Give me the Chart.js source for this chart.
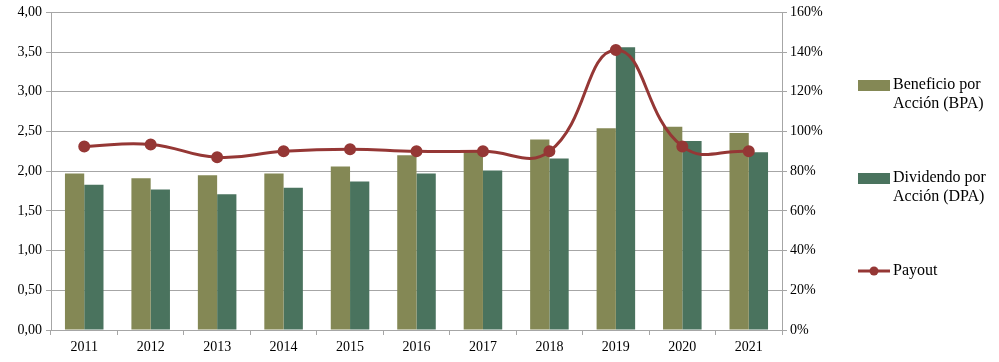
<!DOCTYPE html>
<html>
<head>
<meta charset="utf-8">
<script src="https://cdn.jsdelivr.net/npm/chart.js@4"></script>
<style>
  body { margin: 0; background: #fff; }
  #wrap { width: 999px; height: 362px; }
</style>
</head>
<body>
<div id="wrap"><canvas id="myChart" width="999" height="362"></canvas></div>
<script>
const years = ['2011', '2012', '2013', '2014', '2015', '2016', '2017', '2018', '2019', '2020', '2021'];
const bpa = [1.97, 1.91, 1.95, 1.97, 2.06, 2.20, 2.25, 2.40, 2.54, 2.56, 2.48];
const dpa = [1.83, 1.77, 1.71, 1.79, 1.87, 1.97, 2.01, 2.16, 3.56, 2.38, 2.24];
const payout = [92.5, 93.5, 87, 90, 91, 90, 90, 90, 141, 92.5, 90];

const FONT = '"Liberation Serif", "DejaVu Serif", serif';
const OLIVE = '#848855';
const GREEN = '#4a735e';
const RED = '#953735';

// legend drawn by hand so the labels can wrap like the original
const sideLegend = {
  id: 'sideLegend',
  afterDraw(chart) {
    const ctx = chart.ctx;
    ctx.save();
    ctx.font = '16px ' + FONT;
    ctx.fillStyle = '#000';
    ctx.textBaseline = 'middle';

    ctx.fillStyle = OLIVE;
    ctx.fillRect(858, 80, 32, 11);
    ctx.fillStyle = '#000';
    ctx.fillText('Beneficio por', 893, 85);
    ctx.fillText('Acción (BPA)', 893, 104);

    ctx.fillStyle = GREEN;
    ctx.fillRect(858, 173, 32, 11);
    ctx.fillStyle = '#000';
    ctx.fillText('Dividendo por', 893, 178);
    ctx.fillText('Acción (DPA)', 893, 197);

    ctx.strokeStyle = RED;
    ctx.lineWidth = 3;
    ctx.beginPath();
    ctx.moveTo(858, 271);
    ctx.lineTo(890, 271);
    ctx.stroke();
    ctx.fillStyle = RED;
    ctx.beginPath();
    ctx.arc(874, 271, 4.5, 0, Math.PI * 2);
    ctx.fill();
    ctx.fillStyle = '#000';
    ctx.fillText('Payout', 893, 271);
    ctx.restore();
  }
};

const ctx = document.getElementById('myChart');
const myChart = new Chart(ctx, {
  data: {
    labels: years,
    datasets: [
      {
        type: 'line',
        label: 'Payout',
        data: payout,
        yAxisID: 'y1',
        borderColor: RED,
        backgroundColor: RED,
        borderWidth: 3,
        pointRadius: 4.5,
        pointHoverRadius: 4.5,
        tension: 0.45,
        order: 0
      },
      {
        type: 'bar',
        label: 'Beneficio por Acción (BPA)',
        data: bpa,
        yAxisID: 'y',
        backgroundColor: OLIVE,
        borderWidth: 0,
        categoryPercentage: 0.58,
        barPercentage: 1.0,
        order: 1
      },
      {
        type: 'bar',
        label: 'Dividendo por Acción (DPA)',
        data: dpa,
        yAxisID: 'y',
        backgroundColor: GREEN,
        borderWidth: 0,
        categoryPercentage: 0.58,
        barPercentage: 1.0,
        order: 1
      }
    ]
  },
  options: {
    responsive: false,
    animation: false,
    layout: { padding: { top: 10, right: 137, bottom: 0, left: 0 } },
    scales: {
      x: {
        offset: true,
        grid: { offset: true, drawOnChartArea: false, color: '#a6a6a6', tickLength: 5 },
        border: { color: '#a6a6a6' },
        ticks: { color: '#000', font: { family: FONT, size: 14 }, padding: 4 },
        afterFit: (s) => { s.height = 32; }
      },
      y: {
        position: 'left',
        min: 0,
        max: 4,
        ticks: {
          stepSize: 0.5,
          color: '#000',
          font: { family: FONT, size: 14 },
          padding: 4,
          callback: (v) => v.toFixed(2).replace('.', ',')
        },
        grid: { color: '#a6a6a6', tickLength: 5 },
        border: { color: '#a6a6a6' },
        afterFit: (s) => { s.width = 51; }
      },
      y1: {
        position: 'right',
        min: 0,
        max: 160,
        ticks: {
          stepSize: 20,
          color: '#000',
          font: { family: FONT, size: 14 },
          padding: 3,
          callback: (v) => v + '%'
        },
        grid: { drawOnChartArea: false, color: '#a6a6a6', tickLength: 5 },
        border: { color: '#a6a6a6' },
        afterFit: (s) => { s.width = 80; }
      }
    },
    plugins: {
      legend: { display: false },
      tooltip: { enabled: false }
    }
  },
  plugins: [sideLegend]
});
</script>
</body>
</html>
